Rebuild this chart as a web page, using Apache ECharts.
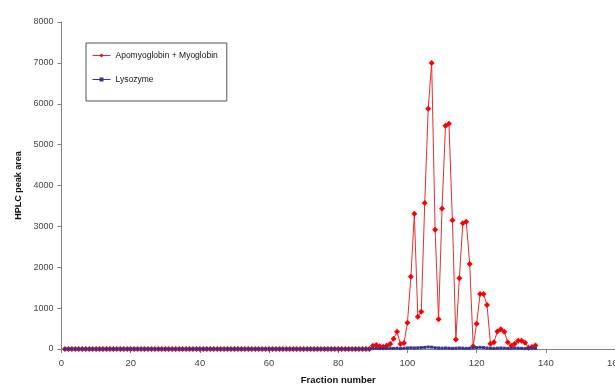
<!DOCTYPE html>
<html>
<head>
<meta charset="utf-8">
<script src="https://cdn.jsdelivr.net/npm/echarts@6/dist/echarts.min.js"></script>
<style>
html,body{margin:0;padding:0;background:#fff;}
#chart{width:615px;height:388px;}
</style>
</head>
<body>
<div id="chart"></div>
<script>
// Fraction numbers start at 1 (one value per fraction)
const firstFraction = 1;

// Apomyoglobin + Myoglobin, fractions 1..137
const apoMyoglobin = [
  0,0,0,0,0,0,0,0,0,0,
  0,0,0,0,0,0,0,0,0,0,
  0,0,0,0,0,0,0,0,0,0,
  0,0,0,0,0,0,0,0,0,0,
  0,0,0,0,0,0,0,0,0,0,
  0,0,0,0,0,0,0,0,0,0,
  0,0,0,0,0,0,0,0,0,0,
  0,0,0,0,0,0,0,0,0,0,
  0,0,0,0,0,0,0,0,0,
  80,100,65,55,80,120,250,420,120,145,
  640,1770,3310,790,910,3570,5880,7000,2920,725,
  3440,5460,5510,3150,230,1730,3075,3115,2080,70,
  620,1345,1345,1075,130,165,430,485,420,165,
  80,130,200,200,150,30,50,85
];

// Lysozyme, fractions 1..137
const lysozyme = [
  0,0,0,0,0,0,0,0,0,0,
  0,0,0,0,0,0,0,0,0,0,
  0,0,0,0,0,0,0,0,0,0,
  0,0,0,0,0,0,0,0,0,0,
  0,0,0,0,0,0,0,0,0,0,
  0,0,0,0,0,0,0,0,0,0,
  0,0,0,0,0,0,0,0,0,0,
  0,0,0,0,0,0,0,0,0,0,
  0,0,0,0,0,0,0,0,0,
  10,15,10,10,15,20,15,20,10,20,
  25,30,25,30,35,40,50,45,30,25,
  20,25,20,15,20,25,20,15,20,30,
  35,40,35,25,20,15,20,25,20,15,
  20,25,20,15,10,15,20,15
];

const xTicks = [0,20,40,60,80,100,120,140,160];
const yTicks = [0,1000,2000,3000,4000,5000,6000,7000,8000];

function pairs(vals){ return vals.map((v,i)=>[firstFraction+i, v]); }

const FONT = '"Liberation Sans", Arial, sans-serif';
const chart = echarts.init(document.getElementById('chart'), null, {renderer:'canvas'});
chart.setOption({
  animation:false,
  backgroundColor:'#fff',
  grid:{left:61.5, right:0, top:22, bottom:39, containLabel:false, outerBoundsMode:'none'},
  legend:{
    orient:'vertical', left:86, top:43,
    padding:[8,9,17,6],
    itemGap:15, itemWidth:18, itemHeight:5,
    borderColor:'#555', borderWidth:1, backgroundColor:'#fff',
    lineStyle:{width:1, inactiveWidth:1},
    textStyle:{fontFamily:FONT, fontSize:8.5, color:'#111'},
    data:['Apomyoglobin + Myoglobin','Lysozyme']
  },
  xAxis:{
    type:'value', min:xTicks[0], max:xTicks[xTicks.length-1], interval:20,
    name:'Fraction number', nameLocation:'middle', nameGap:26,
    nameTextStyle:{fontFamily:FONT, fontSize:9.5, fontWeight:'bold', color:'#111'},
    axisLine:{show:true, onZero:false, lineStyle:{color:'#808080', width:1}},
    axisTick:{show:true, length:4, lineStyle:{color:'#808080'}},
    axisLabel:{fontFamily:FONT, fontSize:9.5, color:'#444', margin:9, showMaxLabel:true},
    splitLine:{show:false}
  },
  yAxis:{
    type:'value', min:yTicks[0], max:yTicks[yTicks.length-1], interval:1000,
    name:'HPLC peak area', nameLocation:'middle', nameGap:38, nameRotate:90,
    nameTextStyle:{fontFamily:FONT, fontSize:9, fontWeight:'bold', color:'#111'},
    axisLine:{show:true, lineStyle:{color:'#808080', width:1}},
    axisTick:{show:true, length:4, lineStyle:{color:'#808080'}},
    axisLabel:{fontFamily:FONT, fontSize:9, color:'#444', margin:8, formatter:(v)=>String(v)},
    splitLine:{show:false}
  },
  series:[
    {
      name:'Apomyoglobin + Myoglobin', type:'line',
      data:pairs(apoMyoglobin),
      symbol:'diamond', symbolSize:6,
      lineStyle:{color:'#e03030', width:1},
      itemStyle:{color:'#ff0000'},
      color:'#ff0000'
    },
    {
      name:'Lysozyme', type:'line',
      data:pairs(lysozyme),
      symbol:'rect', symbolSize:3,
      lineStyle:{color:'#333399', width:1},
      itemStyle:{color:'#333399'},
      color:'#333399'
    }
  ]
});
</script>
</body>
</html>
